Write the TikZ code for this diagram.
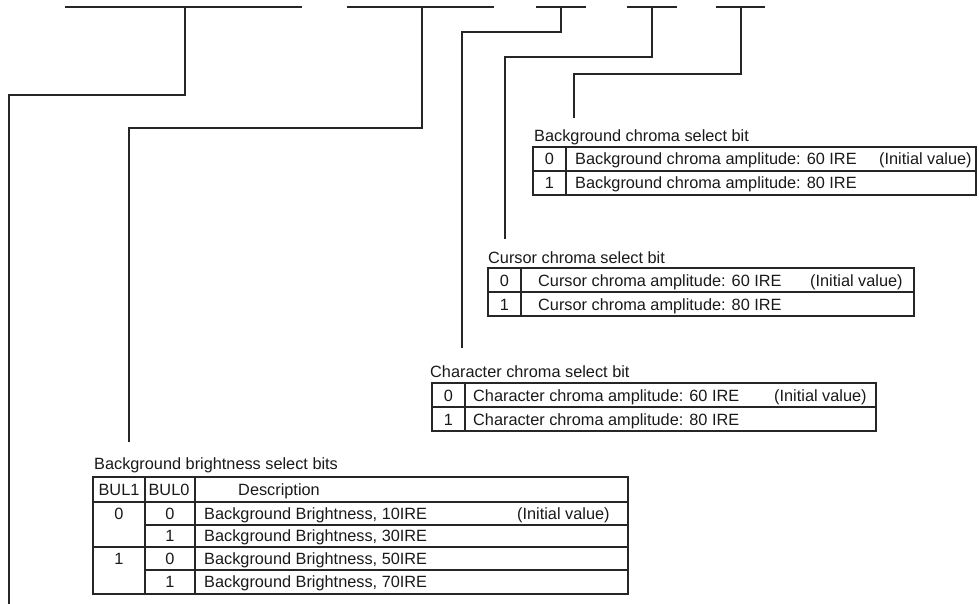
\documentclass[tikz,border=0pt]{standalone}
\usepackage{fontspec}
\setmainfont{Liberation Sans}
\begin{document}
\begin{tikzpicture}[x=1pt,y=-1pt,
  ln/.style={line width=1.2pt, draw=black!85},
  txt/.style={font=\fontsize{16.3pt}{19pt}\selectfont, inner sep=0pt, anchor=base west, text=black!90},
  ctxt/.style={txt, anchor=base},
]
\useasboundingbox (0,0) rectangle (979,604);

% ---------- register bit lines at the top ----------
\coordinate (s1l) at (65,7);  \coordinate (s1r) at (302,7);  \coordinate (d1) at (185,7);
\coordinate (s2l) at (347,7); \coordinate (s2r) at (494,7);  \coordinate (d2) at (422,7);
\coordinate (s3l) at (536,7); \coordinate (s3r) at (586,7);  \coordinate (d3) at (561,7);
\coordinate (s4l) at (627,7); \coordinate (s4r) at (677,7);  \coordinate (d4) at (652,7);
\coordinate (s5l) at (716,7); \coordinate (s5r) at (765,7);  \coordinate (d5) at (741,7);
\foreach \i in {1,...,5} {\draw[ln] (s\i l) -- (s\i r);}

% ---------- leader ends ----------
\coordinate (e1) at (9,604);
\coordinate (e2) at (129,442);
\coordinate (e3) at (462,348);
\coordinate (e4) at (505,239);
\coordinate (e5) at (574,118);

\draw[ln] (d1) |- (e1 |- 0,95) -- (e1);
\draw[ln] (d2) |- (e2 |- 0,128) -- (e2);
\draw[ln] (d3) |- (e3 |- 0,32) -- (e3);
\draw[ln] (d4) |- (e4 |- 0,57) -- (e4);
\draw[ln] (d5) |- (e5 |- 0,74) -- (e5);

% ---------- Background chroma select bit ----------
\node[txt] (t5) at (534,142) {Background chroma select bit};
\draw[ln] (533,147) rectangle (976,195);
\draw[ln] (533,171) -- (976,171);
\draw[ln] (566,147) -- (566,195);
\node[ctxt] (t5a) at (549.5,165) {0};
\node[txt]  (t5b) at (575,165) {Background chroma amplitude: 60 IRE};
\node[txt]  (t5c) at (879,165) {(Initial value)};
\node[ctxt] (t5d) at (549.5,189) {1};
\node[txt]  (t5e) at (575,189) {Background chroma amplitude: 80 IRE};

% ---------- Cursor chroma select bit ----------
\node[txt] (t4) at (488,263) {Cursor chroma select bit};
\draw[ln] (488,268) rectangle (914,316);
\draw[ln] (488,292) -- (914,292);
\draw[ln] (521,268) -- (521,316);
\node[ctxt] (t4a) at (504.5,286) {0};
\node[txt]  (t4b) at (538,286) {Cursor chroma amplitude: 60 IRE};
\node[txt]  (t4c) at (810,286) {(Initial value)};
\node[ctxt] (t4d) at (504.5,310) {1};
\node[txt]  (t4e) at (538,310) {Cursor chroma amplitude: 80 IRE};

% ---------- Character chroma select bit ----------
\node[txt] (t3) at (430,377) {Character chroma select bit};
\draw[ln] (432,383) rectangle (876,431);
\draw[ln] (432,407) -- (876,407);
\draw[ln] (465,383) -- (465,431);
\node[ctxt] (t3a) at (448.5,401) {0};
\node[txt]  (t3b) at (473,401) {Character chroma amplitude: 60 IRE};
\node[txt]  (t3c) at (774,401) {(Initial value)};
\node[ctxt] (t3d) at (448.5,425) {1};
\node[txt]  (t3e) at (473,425) {Character chroma amplitude: 80 IRE};

% ---------- Background brightness select bits ----------
\node[txt] (t2) at (94,469) {Background brightness select bits};
\draw[ln] (93,477) rectangle (628,594);
\draw[ln] (93,502) -- (628,502);
\draw[ln] (93,547) -- (628,547);
\draw[ln] (145,525) -- (628,525);
\draw[ln] (145,570) -- (628,570);
\draw[ln] (145,477) -- (145,594);
\draw[ln] (195,477) -- (195,594);
\node[ctxt] (h1) at (119,495.5) {BUL1};
\node[ctxt] (h2) at (169,495.5) {BUL0};
\node[ctxt] (h3) at (279,495.5) {Description};
\node[ctxt] (r1a) at (119,519.3) {0};
\node[ctxt] (r1b) at (170,519.3) {0};
\node[txt]  (r1c) at (204,519.3) {Background Brightness, 10IRE};
\node[txt]  (r1d) at (517,519.3) {(Initial value)};
\node[ctxt] (r2b) at (170,541.8) {1};
\node[txt]  (r2c) at (204,541.8) {Background Brightness, 30IRE};
\node[ctxt] (r3a) at (119,564.3) {1};
\node[ctxt] (r3b) at (170,564.3) {0};
\node[txt]  (r3c) at (204,564.3) {Background Brightness, 50IRE};
\node[ctxt] (r4b) at (170,587.8) {1};
\node[txt]  (r4c) at (204,587.8) {Background Brightness, 70IRE};
\end{tikzpicture}
\end{document}
